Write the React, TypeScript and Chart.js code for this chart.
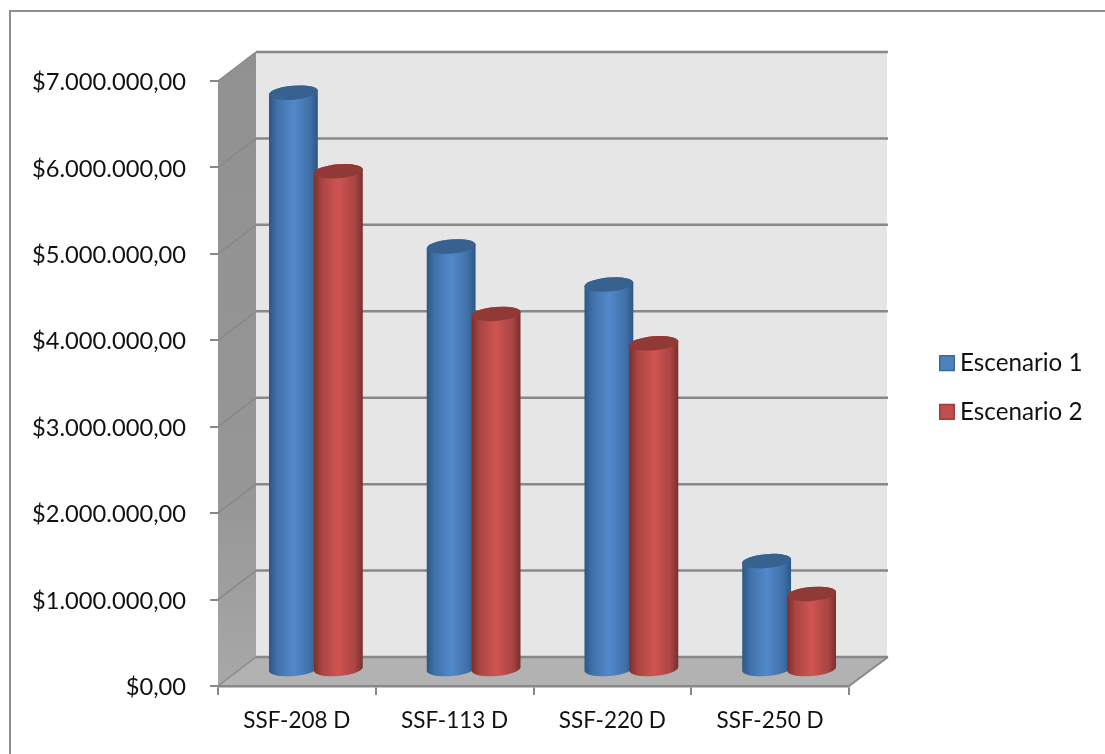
import React, { useEffect, useRef } from "react";
import { Chart, registerables } from "chart.js";

Chart.register(...registerables);

const categories = ["SSF-208 D", "SSF-113 D", "SSF-220 D", "SSF-250 D"];
const escenario1 = [6680000, 4900000, 4460000, 1260000];
const escenario2 = [5770000, 4120000, 3780000, 880000];
const tickLabels = [
  "$0,00",
  "$1.000.000,00",
  "$2.000.000,00",
  "$3.000.000,00",
  "$4.000.000,00",
  "$5.000.000,00",
  "$6.000.000,00",
  "$7.000.000,00",
];

const FONT = "Lato, 'Open Sans', sans-serif";
const GRID = "#888888";
const DEPTH_X = 38;
const DEPTH_Y = 29;
const SWATCH = 16;

const polygon = (ctx: CanvasRenderingContext2D, pts: number[][]) => {
  ctx.beginPath();
  pts.forEach(([x, y], i) => (i ? ctx.lineTo(x, y) : ctx.moveTo(x, y)));
  ctx.closePath();
};

// Back wall, floor, side wall and the outer frame of the 3D box.
const boxPlugin = {
  id: "box3d",
  beforeDraw(chart: any) {
    const { ctx, chartArea: a, scales } = chart;
    const { left: l, right: r, top: t, bottom: b } = a;
    const dx = DEPTH_X;
    const dy = DEPTH_Y;
    ctx.save();

    ctx.strokeStyle = "#8e8e8e";
    ctx.lineWidth = 2;
    ctx.beginPath();
    ctx.moveTo(10, chart.height);
    ctx.lineTo(10, 11);
    ctx.lineTo(chart.width, 11);
    ctx.stroke();

    ctx.fillStyle = "#e6e6e6";
    ctx.fillRect(l + dx, t - dy, r - l, b - t);

    polygon(ctx, [[l, b], [r, b], [r + dx, b - dy], [l + dx, b - dy]]);
    ctx.fillStyle = "#b2b2b2";
    ctx.fill();

    const wall = ctx.createLinearGradient(0, t - dy, 0, b);
    wall.addColorStop(0, "#919191");
    wall.addColorStop(0.7, "#969696");
    wall.addColorStop(1, "#a8a8a8");
    polygon(ctx, [[l, b], [l + dx, b - dy], [l + dx, t - dy], [l, t]]);
    ctx.fillStyle = wall;
    ctx.fill();

    ctx.strokeStyle = GRID;
    scales.y.ticks.forEach((tick: any) => {
      const y = scales.y.getPixelForValue(tick.value);
      ctx.lineWidth = 2.5;
      ctx.beginPath();
      ctx.moveTo(l + dx, y - dy);
      ctx.lineTo(r + dx + 1, y - dy);
      ctx.stroke();
      ctx.lineWidth = 1.5;
      ctx.beginPath();
      ctx.moveTo(l, y);
      ctx.lineTo(l + dx, y - dy);
      ctx.stroke();
    });
    ctx.lineWidth = 2;
    ctx.beginPath();
    ctx.moveTo(r, b);
    ctx.lineTo(r + dx + 1, b - dy);
    ctx.stroke();
    ctx.restore();
  },
};

const sideGradient = (
  ctx: CanvasRenderingContext2D,
  x: number,
  rx: number,
  stops: string[],
) => {
  const g = ctx.createLinearGradient(x - rx, 0, x + rx, 0);
  g.addColorStop(0, stops[0]);
  g.addColorStop(0.16, stops[1]);
  g.addColorStop(0.5, stops[2]);
  g.addColorStop(0.84, stops[1]);
  g.addColorStop(1, stops[0]);
  return g;
};

// Each bar element is painted as a cylinder standing in the middle of the box depth.
// The flat default bars are skipped; later series overlap earlier ones.
const cylinderPlugin = {
  id: "cylinders",
  beforeDatasetDraw() {
    return false;
  },
  afterDatasetsDraw(chart: any) {
    const { ctx } = chart;
    const tilt = -0.085;
    const ry = 7;
    chart.data.datasets.forEach((ds: any, index: number) => {
      chart.getDatasetMeta(index).data.forEach((bar: any) => {
        const cx = bar.x + DEPTH_X / 2;
        const topY = bar.y - 16;
        const baseY = bar.base - 16;
        const rx = bar.width / 2;
        ctx.save();
        ctx.beginPath();
        ctx.ellipse(cx, baseY, rx, ry, tilt, 0, Math.PI, false);
        ctx.ellipse(cx, topY, rx, ry, tilt, Math.PI, Math.PI * 2, false);
        ctx.closePath();
        ctx.fillStyle = sideGradient(ctx, cx, rx, ds.sideStops);
        ctx.fill();
        ctx.beginPath();
        ctx.ellipse(cx, topY, rx, ry, tilt, 0, Math.PI * 2);
        ctx.fillStyle = ds.capColor;
        ctx.fill();
        ctx.restore();
      });
    });
  },
};

// The legend's own boxes leave too wide a gap before the text, so the legend is
// nudged into place and the colour keys are painted closer to the labels.
const legendKeyPlugin = {
  id: "legendKeys",
  afterLayout(chart: any) {
    const legend = chart.legend;
    legend.left -= 5;
    legend.right -= 5;
    legend.top += 4;
    legend.bottom += 4;
  },
  afterDraw(chart: any) {
    const { ctx } = chart;
    chart.legend.legendHitBoxes.forEach((h: any, i: number) => {
      const ds = chart.data.datasets[i];
      ctx.save();
      ctx.fillStyle = ds.backgroundColor;
      ctx.strokeStyle = ds.borderColor;
      ctx.lineWidth = 1.5;
      const x = h.left + 7;
      const y = h.top + (h.height - SWATCH) / 2;
      ctx.fillRect(x, y, SWATCH, SWATCH);
      ctx.strokeRect(x + 0.75, y + 0.75, SWATCH - 1.5, SWATCH - 1.5);
      ctx.restore();
    });
  },
};

export default function App() {
  const ref = useRef<HTMLCanvasElement>(null);

  useEffect(() => {
    const chart = new Chart(ref.current as HTMLCanvasElement, {
      type: "bar",
      data: {
        labels: categories,
        datasets: [
          {
            label: "Escenario 1",
            data: escenario1,
            yAxisID: "y",
            backgroundColor: "#4f81bd",
            borderColor: "#3a689f",
            borderWidth: 2,
            categoryPercentage: 0.57,
            barPercentage: 1.09,
            sideStops: ["#2c5784", "#4070a8", "#5289cb"],
            capColor: "#37618f",
          } as any,
          {
            label: "Escenario 2",
            data: escenario2,
            yAxisID: "y",
            backgroundColor: "#c0504d",
            borderColor: "#9c3e3b",
            borderWidth: 2,
            categoryPercentage: 0.57,
            barPercentage: 1.09,
            sideStops: ["#7a2e2c", "#a84543", "#d05452"],
            capColor: "#913936",
          } as any,
        ],
      },
      options: {
        responsive: false,
        animation: false,
        layout: { padding: { top: 81, bottom: 0, left: 0, right: 10 } },
        plugins: {
          title: { display: false },
          tooltip: { enabled: false },
          legend: {
            position: "right",
            fullSize: false,
            labels: {
              boxWidth: SWATCH,
              boxHeight: SWATCH,
              padding: 24.5,
              color: "#111111",
              font: { family: FONT, size: 24.2 },
              generateLabels: (c: any) =>
                c.data.datasets.map((ds: any, i: number) => ({
                  text: ds.label,
                  datasetIndex: i,
                  fontColor: "#111111",
                  fillStyle: "rgba(0,0,0,0)",
                  strokeStyle: "rgba(0,0,0,0)",
                  lineWidth: 0,
                })),
            },
          },
        },
        scales: {
          x: {
            grid: { drawOnChartArea: false, drawTicks: true, tickLength: 9, color: GRID, lineWidth: 2 },
            border: { color: GRID, width: 2.5 },
            ticks: { color: "#111111", padding: 12, maxRotation: 0, font: { family: FONT, size: 22.5 } },
            afterFit: (s: any) => {
              s.height = 68;
            },
          },
          y: {
            min: 0,
            max: 7000000,
            grid: { drawOnChartArea: false, drawTicks: true, tickLength: 8, color: GRID, lineWidth: 2 },
            border: { display: false },
            ticks: {
              stepSize: 1000000,
              color: "#111111",
              padding: 24,
              labelOffset: 1.5,
              font: { family: FONT, size: 23.7 },
              callback: (_v: any, i: number) => tickLabels[i],
            },
            afterFit: (s: any) => {
              s.width = 218;
            },
          },
          // Empty column that keeps the legend clear of the box's receding right edge.
          gutter: {
            type: "linear",
            position: "right",
            display: true,
            grid: { display: false },
            border: { display: false },
            ticks: { display: false },
            afterFit: (s: any) => {
              s.width = 63.5;
            },
          },
        },
      } as any,
      plugins: [boxPlugin, cylinderPlugin, legendKeyPlugin],
    });
    return () => chart.destroy();
  }, []);

  return (
    <canvas
      ref={ref}
      width={1105}
      height={754}
      style={{ position: "absolute", left: 0, top: 0, display: "block" }}
    />
  );
}
